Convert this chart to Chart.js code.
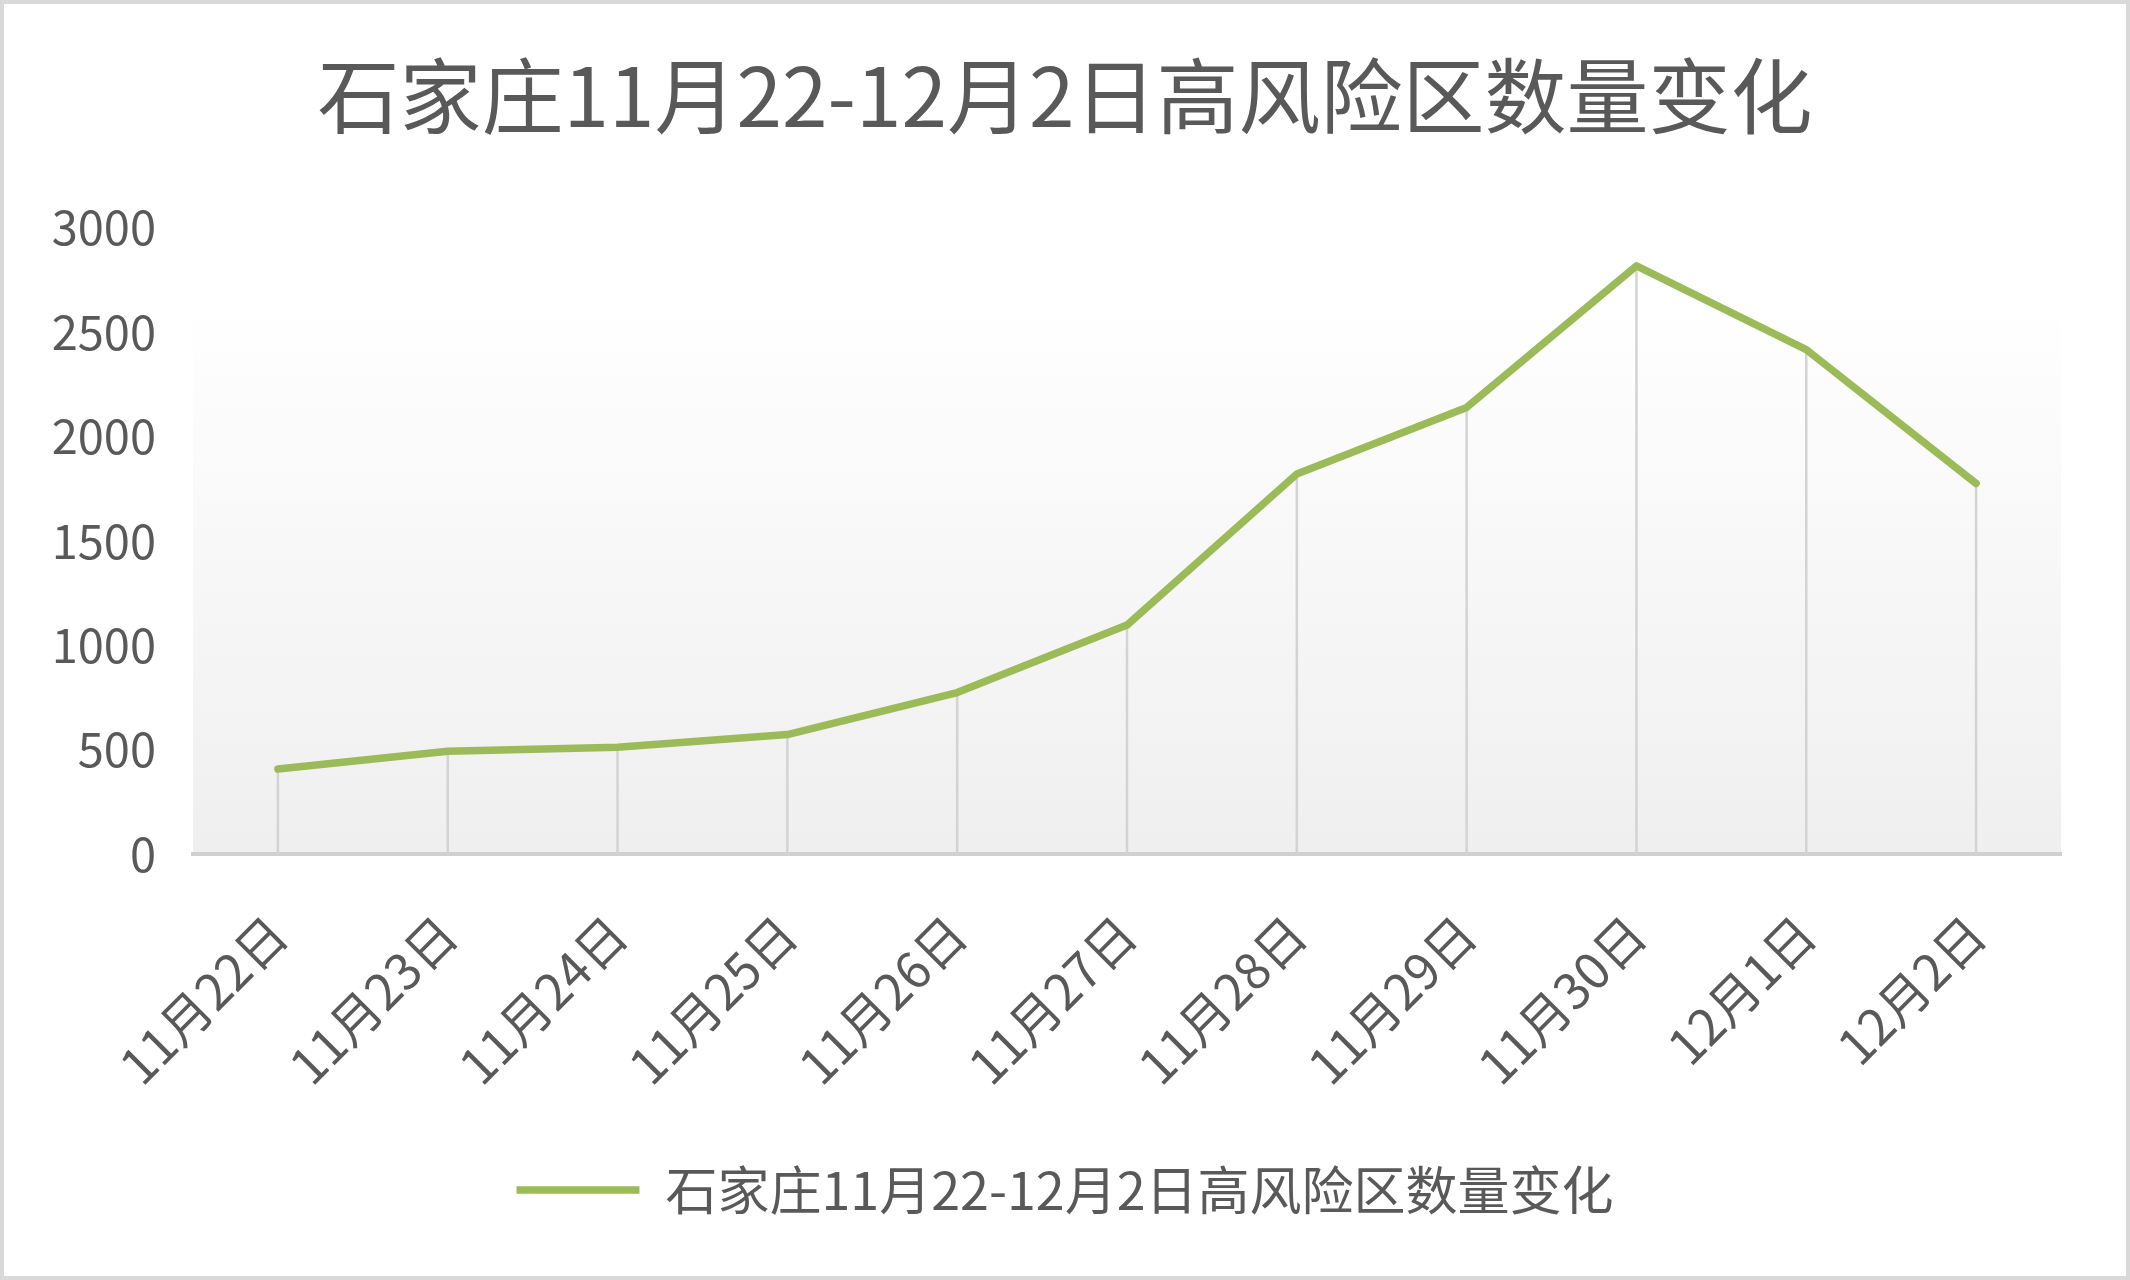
<!DOCTYPE html>
<html>
<head>
<meta charset="utf-8">
<script src="https://cdn.jsdelivr.net/npm/chart.js@4"></script>
<style>
  html, body { margin: 0; padding: 0; background: #fff; }
  #wrap { width: 2130px; height: 1280px; position: relative; }
</style>
</head>
<body>
<div id="wrap"><canvas id="myChart" width="2130" height="1280"></canvas></div>
<script>
// ********** data ************
const chartTitle = "石家庄11月22-12月2日高风险区数量变化";
const categories = [
  "11月22日", "11月23日", "11月24日", "11月25日", "11月26日", "11月27日",
  "11月28日", "11月29日", "11月30日", "12月1日", "12月2日",
];
const riskAreas = [407, 492, 511, 572, 773, 1096, 1819, 2138, 2816, 2415, 1774];
const yMin = 0;
const yMax = 3000;
const yStep = 500;

const FONT = "'Noto Sans CJK SC', 'Noto Sans', sans-serif";
const TEXT = "#595959";
const GREEN = "#9bbb59";

// ********** plugins ************
// white page, gradient plot area and the outer frame
const backdrop = {
  id: "backdrop",
  beforeDraw(chart) {
    const { ctx, chartArea: a, width, height } = chart;
    ctx.save();
    ctx.fillStyle = "#fff";
    ctx.fillRect(0, 0, width, height);
    const top = a.top + (a.bottom - a.top) * 0.116;
    const g = ctx.createLinearGradient(0, top, 0, a.bottom);
    g.addColorStop(0, "#ffffff");
    g.addColorStop(1, "#efefef");
    ctx.fillStyle = g;
    ctx.fillRect(a.left, top, a.right - a.left, a.bottom - top);
    ctx.restore();
  },
  afterDraw(chart) {
    const { ctx, width, height } = chart;
    ctx.save();
    ctx.strokeStyle = "#d9d9d9";
    ctx.lineWidth = 4;
    ctx.strokeRect(2, 2, width - 4, height - 4);
    ctx.restore();
  },
};

// drop lines from each point down to the axis
const dropLines = {
  id: "dropLines",
  beforeDatasetsDraw(chart) {
    const { ctx, chartArea } = chart;
    const meta = chart.getDatasetMeta(0);
    ctx.save();
    ctx.strokeStyle = "#d3d3d3";
    ctx.lineWidth = 2.5;
    meta.data.forEach((pt) => {
      ctx.beginPath();
      ctx.moveTo(pt.x, pt.y);
      ctx.lineTo(pt.x, chartArea.bottom);
      ctx.stroke();
    });
    ctx.restore();
  },
};

// ********** chart ************
const ctx = document.getElementById("myChart");
const myChart = new Chart(ctx, {
  type: "line",
  data: {
    labels: categories,
    datasets: [
      {
        label: chartTitle,
        data: riskAreas,
        borderColor: GREEN,
        backgroundColor: GREEN,
        borderWidth: 7.5,
        borderCapStyle: "round",
        borderJoinStyle: "round",
        pointRadius: 0,
        tension: 0,
        fill: false,
      },
    ],
  },
  options: {
    responsive: false,
    devicePixelRatio: 1,
    animation: false,
    layout: { padding: { left: 0, right: 0, top: 0, bottom: 54 } },
    plugins: {
      title: {
        display: true,
        text: chartTitle,
        color: TEXT,
        font: { family: FONT, size: 82, weight: "normal" },
        padding: { top: 47, bottom: 82 },
      },
      legend: {
        position: "bottom",
        labels: {
          color: TEXT,
          font: { family: FONT, size: 52 },
          usePointStyle: true,
          pointStyle: "line",
          pointStyleWidth: 123,
          padding: 10,
        },
      },
      tooltip: { enabled: false },
    },
    scales: {
      x: {
        offset: true,
        grid: { display: false, drawTicks: false },
        border: { display: true, color: "#d0d0d0", width: 4 },
        ticks: {
          color: TEXT,
          font: { family: FONT, size: 50 },
          minRotation: 45,
          maxRotation: 45,
          padding: 50,
          autoSkip: false,
        },
        afterFit(scale) {
          scale.height = 300;
        },
      },
      y: {
        min: yMin,
        max: yMax,
        grid: { display: false, drawTicks: false },
        border: { display: false },
        ticks: {
          stepSize: yStep,
          color: TEXT,
          font: { family: FONT, size: 47 },
          padding: 37,
          callback: (v) => String(v),
        },
        afterFit(scale) {
          scale.width = 193;
        },
      },
      // empty right margin so title and legend centre on the whole page
      spacer: {
        position: "right",
        grid: { display: false, drawTicks: false },
        border: { display: false },
        ticks: { display: false },
        afterFit(scale) {
          scale.width = 69;
        },
      },
    },
  },
  plugins: [backdrop, dropLines],
});
</script>
</body>
</html>
